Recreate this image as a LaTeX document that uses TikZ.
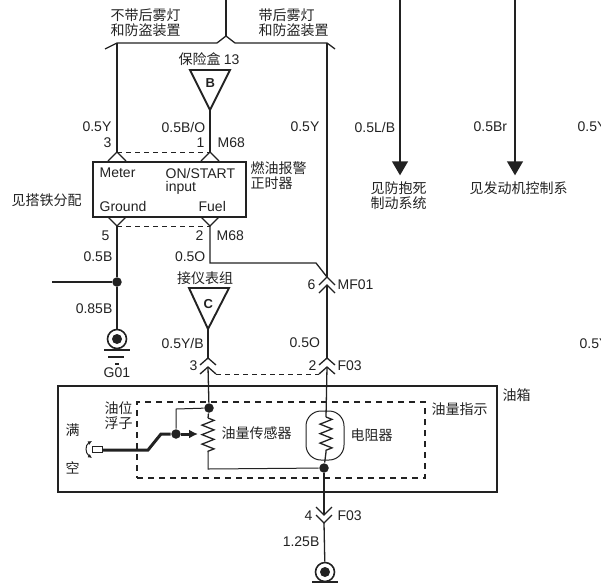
\documentclass[tikz,border=0pt]{standalone}
\usepackage{fontspec}
\setmainfont{Liberation Sans}
\newfontfamily\cjk{Noto Sans CJK SC}
\usetikzlibrary{positioning,decorations.pathmorphing,arrows.meta}
\definecolor{inkgray}{HTML}{222222}

\begin{document}
\begin{tikzpicture}[x=1pt,y=-1pt,line width=1.3pt,draw=inkgray]
  \tikzstyle{lbl}=[inner sep=0,anchor=west,text=inkgray,font=\fontsize{14}{15}\selectfont]
  \tikzstyle{lblr}=[lbl,anchor=east]
  \tikzstyle{zh}=[inner sep=0,anchor=west,align=left,text=inkgray,font=\cjk\fontsize{14}{15}\selectfont]
  \tikzstyle{zhc}=[zh,anchor=center,align=center]
  \tikzstyle{dot}=[circle,fill=inkgray,inner sep=0,minimum size=9.5pt]
  \tikzstyle{module}=[draw,line width=1.7pt,inner sep=0,minimum width=153pt,minimum height=55pt]
  \tikzstyle{tankbox}=[draw,line width=1.9pt,inner sep=0,minimum width=439pt,minimum height=106pt]
  \tikzstyle{sender}=[draw,line width=1.9pt,dash pattern=on 6pt off 5pt,inner sep=0,minimum width=288pt,minimum height=76pt]
  \tikzstyle{pill}=[draw,line width=1pt,rounded corners=15pt,inner sep=0,minimum width=38pt,minimum height=49pt]
  \tikzstyle{coil}=[decorate,decoration={zigzag,segment length=9.5pt,amplitude=6pt}]
  \tikzstyle{link}=[dash pattern=on 5pt off 4pt,line width=1pt]
  \useasboundingbox (0,0) rectangle (601,584);

  % boxes
  \node[module] (timer) at (169.5,189.5) {};
  \node[tankbox] (tank) at (277.5,439) {};
  \node[sender] (unit) at (281,440) {};
  \node[pill] (res) at (325,435.5) {};

  % junctions
  \coordinate (top) at (226,0);
  \coordinate (split) at (226,36);
  \coordinate (leftb) at (117,43);
  \coordinate (rightb) at (327,43);
  \coordinate (m3) at (117,152);
  \coordinate (m1) at (210,152);
  \coordinate (m5) at (117,226);
  \coordinate (m2) at (210,226);
  \coordinate (bend) at (210,263);
  \coordinate (bend2) at (316,263);
  \coordinate (mf1) at (327,277);
  \coordinate (mf2) at (327,285);
  \coordinate (c3a) at (208,358);
  \coordinate (c3b) at (208,367);
  \coordinate (f2a) at (327,358);
  \coordinate (f2b) at (327,367);
  \coordinate (f4a) at (324,515);
  \coordinate (f4b) at (324,523);
  \coordinate (triB) at (210,110);
  \coordinate (triC) at (208,329);
  \coordinate (wireL) at (52,282);
  \coordinate (gnd1) at (117,330);
  \coordinate (sensT) at (208,418);
  \coordinate (sensB) at (208,452);
  \coordinate (sensC) at (208,469);
  \coordinate (resT) at (326,417);
  \coordinate (resB) at (326,452);
  \coordinate (tap) at (176,409);
  \coordinate (armA) at (102,450);
  \coordinate (armB) at (148,450);
  \coordinate (armC) at (161,434);
  \coordinate (armD) at (198,434);
  \coordinate (absT) at (400,0);
  \coordinate (absE) at (400,162);
  \coordinate (ecuT) at (515,0);
  \coordinate (ecuE) at (515,162);

  \node[dot] (dG) at (117,282) {};
  \node[dot] (dS) at (209,408) {};
  \node[dot] (dA) at (176,434) {};
  \node[dot] (dR) at (324,468) {};

  % top branch
  \draw (top) -- (split);
  \draw (leftb) ++(-12,6) -- (leftb) -- ++(100,0) -- (split) -- ++(9,7) -- (rightb) -- ++(8,6);
  \draw (leftb) -- (m3);
  \draw (rightb) -- (mf1);

  % triangles
  \draw[line width=1.9pt] (190,70) -- (230,70) -- (triB) -- cycle;
  \draw[line width=1.9pt] (189,288) -- (229,288) -- (triC) -- cycle;
  \draw (triB) -- (m1);
  \draw (triC) -- (c3a);

  % connectors on the timer
  \draw (m3) ++(-9,9) -- (m3) -- ++(9,9);
  \draw (m1) ++(-9,9) -- (m1) -- ++(9,9);
  \draw (m5) ++(-9,-9) -- (m5) -- ++(9,-9);
  \draw (m2) ++(-9,-9) -- (m2) -- ++(9,-9);
  \draw[link] (m3) -- (m1);
  \draw[link] (m5) -- (m2);

  % wires below the timer
  \draw (m5) -- (dG);
  \draw (wireL) -- (dG);
  \draw (dG) -- (gnd1);
  \draw (m2) -- (bend) -- (bend2) -- (mf1);

  % ground G01
  \node[circle,draw,line width=1.6pt,inner sep=0,minimum size=19pt] (gA) at (117,339) {};
  \node[circle,fill=inkgray,inner sep=0,minimum size=10pt] (gB) at (117,339) {};
  \coordinate (g1) at (104,350);
  \coordinate (g2) at (108,357);
  \coordinate (g3) at (115,364);
  \draw[line width=1.6pt] (g1) -- ++(26,0);
  \draw (g2) -- ++(16,0);
  \draw (g3) -- ++(4,0);

  % connectors F03 and MF01
  \draw (mf1) ++(-8,8) -- (mf1) -- ++(8,8);
  \draw (mf2) ++(-8,8) -- (mf2) -- ++(8,8);
  \draw (mf2) -- (f2a);
  \draw (c3a) ++(-8,7) -- (c3a) -- ++(8,7);
  \draw (c3b) ++(-8,7) -- (c3b) -- ++(8,7);
  \draw (f2a) ++(-8,7) -- (f2a) -- ++(8,7);
  \draw (f2b) ++(-8,7) -- (f2b) -- ++(8,7);
  \coordinate (lnkA) at (216,374);
  \coordinate (lnkB) at (319,374);
  \draw[link] (lnkA) -- (lnkB);
  \draw (f4a) ++(-8,-8) -- (f4a) -- ++(8,-8);
  \draw (f4b) ++(-8,-8) -- (f4b) -- ++(8,-8);

  % inside the tank
  \draw (c3b) -- (dS);
  \draw (f2b) -- (resT);
  \draw[coil] (resT) -- (resB);
  \draw[coil] (sensT) -- (sensB);
  \draw (dS) -- (sensT);
  \draw (resB) -- (dR);
  \draw[line width=1pt] (dS) -- (tap) -- (dA);
  \draw[line width=1pt] (sensB) -- (sensC) -- (dR);
  \draw (dR) -- (f4a);
  \draw[line width=3pt] (armA) -- (armB) -- (armC) -- (dA);
  \draw[line width=3pt,-{Latex[length=9pt,width=9pt]}] (dA) -- (armD);
  \node[draw,line width=0.8pt,fill=white,inner sep=0,minimum width=9.5pt,minimum height=5.5pt] (float) at (97.5,449.5) {};
  \coordinate (swA) at (92,441);
  \coordinate (swB) at (92,458);
  \draw[line width=1pt,{Latex[length=4pt,width=4pt]}-{Latex[length=4pt,width=4pt]}] (swA) .. controls (85,445) and (85,453) .. (swB);

  % ground below
  \node[circle,draw,line width=1.6pt,inner sep=0,minimum size=19pt] (gC) at (325,572) {};
  \node[circle,fill=inkgray,inner sep=0,minimum size=10pt] (gD) at (325,572) {};
  \coordinate (g4) at (312,582);
  \draw (f4b) -- (gC);
  \draw[line width=1.6pt] (g4) -- ++(26,0);

  % arrows on the right
  \draw (absT) -- (absE);
  \draw (ecuT) -- (ecuE);
  \draw[fill=inkgray] (absE) ++(-7,0) -- ++(14,0) -- ++(-7,12) -- cycle;
  \draw[fill=inkgray] (ecuE) ++(-7,0) -- ++(14,0) -- ++(-7,12) -- cycle;

  % labels on top
  \node[zh] (t1) at (110,22.5) {不带后雾灯\\和防盗装置};
  \node[zh] (t2) at (258,22.5) {带后雾灯\\和防盗装置};
  \node[zh,anchor=west] (t3) at (178,59) {保险盒 \fontspec{Liberation Sans}13};
  \node[lbl,font=\bfseries\fontsize{13}{13}\selectfont] (lB) at (205,83) {B};
  \node[lbl,font=\bfseries\fontsize{13}{13}\selectfont] (lC) at (203,304) {C};
  \node[lblr] (l1) at (112,127) {0.5Y};
  \node[lbl] (l2) at (161,127) {0.5B/O};
  \node[lblr] (l3) at (320,127) {0.5Y};
  \node[lbl] (l4) at (354,127) {0.5L/B};
  \node[lbl] (l5) at (473,127) {0.5Br};
  \node[lbl] (l6) at (577,127) {0.5Y};
  \node[lbl] (p3) at (103,143) {3};
  \node[lbl] (p1) at (196,143) {1};
  \node[lbl] (m68a) at (217,143) {M68};

  % timer text
  \node[lbl] (meter) at (99,173) {Meter};
  \node[lbl] (onst) at (165,173) {ON/START};
  \node[lbl] (inp) at (165,187.5) {input};
  \node[lbl] (grd) at (99,206) {Ground};
  \node[lbl] (fuel) at (198,206) {Fuel};
  \node[zh] (tim) at (250,176) {燃油报警\\正时器};
  \node[zh] (seeg) at (11,200) {见搭铁分配};

  % labels below the timer
  \node[lbl] (p5) at (101,236) {5};
  \node[lbl] (p2) at (195,236) {2};
  \node[lbl] (m68b) at (216,236) {M68};
  \node[lblr] (w1) at (113,257) {0.5B};
  \node[lblr] (w2) at (206,257) {0.5O};
  \node[lblr] (w3) at (113,309) {0.85B};
  \node[zhc] (inst) at (205,278) {接仪表组};
  \node[lbl] (p6) at (307,285) {6};
  \node[lbl] (mf) at (337,285) {MF01};
  \node[lbl] (w4) at (161,343) {0.5Y/B};
  \node[lbl] (w5) at (289,343) {0.5O};
  \node[lbl] (w6) at (579,344) {0.5Y};
  \node[lbl] (p3b) at (189,366) {3};
  \node[lbl] (p2b) at (308,366) {2};
  \node[lbl] (f03a) at (337,366) {F03};
  \node[lbl] (g01) at (103,373) {G01};

  % tank labels
  \node[zh] (tk) at (502,395) {油箱};
  \node[zh] (oi) at (431,409) {油量指示};
  \node[zh] (fl) at (104,416) {油位\\浮子};
  \node[zh] (man) at (65,430) {满};
  \node[zh] (kong) at (65,468) {空};
  \node[zh] (sen) at (221,433) {油量传感器};
  \node[zh] (rs) at (350,435) {电阻器};

  % labels at the bottom
  \node[lbl] (p4) at (304,516) {4};
  \node[lbl] (f03b) at (337,516) {F03};
  \node[lblr] (w7) at (320,542) {1.25B};

  % labels on the right
  \node[zh] (abs) at (370,195.5) {见防抱死\\制动系统};
  \node[zh] (ecu) at (469,188) {见发动机控制系};
\end{tikzpicture}
\end{document}
